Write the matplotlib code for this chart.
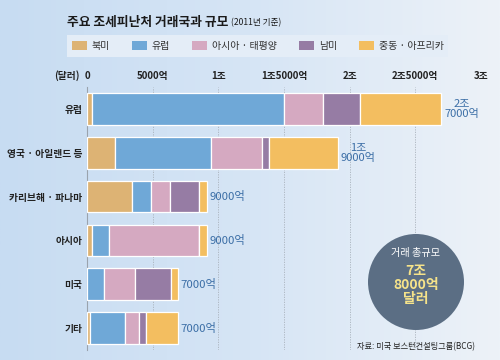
import numpy as np
import matplotlib
matplotlib.use("Agg")
import matplotlib.pyplot as plt
from matplotlib.patches import Patch, Circle, Rectangle
from matplotlib.colors import LinearSegmentedColormap

plt.rcParams['font.family'] = ['Noto Sans CJK KR', 'DejaVu Sans']

# ---- data (unit: 억 달러) ----
categories = ["유럽", "영국 · 아일랜드 등", "카리브해 · 파나마", "아시아", "미국", "기타"]
regions = ["북미", "유럽", "아시아 · 태평양", "남미", "중동 · 아프리카"]
north_america = [360, 2160, 3450, 360, 0, 200]
europe = [14630, 7280, 1450, 1290, 1320, 2690]
asia_pacific = [2970, 3880, 1420, 6870, 2330, 1100]
south_america = [2790, 560, 2210, 0, 2740, 530]
mideast_africa = [6240, 5250, 590, 590, 530, 2400]
total_labels = ["2조\n7000억", "1조\n9000억", "9000억", "9000억", "7000억", "7000억"]
tick_values = [0, 5000, 10000, 15000, 20000, 25000, 30000]
tick_labels = ["0", "5000억", "1조", "1조5000억", "2조", "2조5000억", "3조"]

series = [north_america, europe, asia_pacific, south_america, mideast_africa]
colors = ["#ddb374", "#6fa8d7", "#d5a9c1", "#967ca4", "#f3be60"]

W, H = 500, 360
fig = plt.figure(figsize=(W / 100, H / 100), dpi=100)

# background gradient
bg = fig.add_axes([0, 0, 1, 1], zorder=-10)
grad = np.linspace(0, 1, 256)[None, :]
cmap = LinearSegmentedColormap.from_list("bg", ["#c7dcf2", "#d6e5f5", "#edf2f8"])
bg.imshow(grad, aspect="auto", cmap=cmap, extent=[0, 1, 0, 1])
bg.set_axis_off()

# main axes: x 87..481 px, y 87..350 px
ax = fig.add_axes([87 / W, (H - 350) / H, 394 / W, 263 / H])
ax.patch.set_alpha(0)
y = np.arange(len(categories))
left = np.zeros(len(categories))
for vals, col in zip(series, colors):
    v = np.array(vals, dtype=float)
    ax.barh(y, v, left=left, height=0.72, color=col, edgecolor="white",
            linewidth=0.9, zorder=3)
    left += v

ax.set_xlim(0, 30000)
ax.set_ylim(5.5, -0.5)
ax.set_xticks(tick_values)
ax.set_xticklabels(tick_labels, fontsize=7, fontweight="bold", color="#222222")
ax.xaxis.tick_top()
ax.tick_params(axis="x", length=0, pad=4)
ax.set_yticks(y)
ax.set_yticklabels(categories, fontsize=7, fontweight="bold", color="#222222")
ax.tick_params(axis="y", length=0, pad=3.5)
for s in ["top", "right", "bottom"]:
    ax.spines[s].set_visible(False)
ax.spines["left"].set_color("#9aa3ad")
ax.spines["left"].set_linewidth(0.8)
ax.grid(axis="x", linestyle=(0, (1.5, 1.5)), color="#a9b2bc", linewidth=0.6, zorder=0)
ax.set_axisbelow(True)

# (달러) prefix
ax.annotate("(달러)", xy=(0, 1), xycoords="axes fraction", xytext=(-5, 4),
            textcoords="offset points", ha="right", va="bottom",
            fontsize=7, fontweight="bold", color="#222222")

# total labels
for i, (tot, lab) in enumerate(zip(left, total_labels)):
    if "\n" in lab:
        ax.annotate(lab, xy=(tot, i), xytext=(14.5, 0), textcoords="offset points",
                    ha="center", va="center", fontsize=8, color="#3b6ea6",
                    linespacing=1.05)
    else:
        ax.annotate(lab, xy=(tot, i), xytext=(2, 0), textcoords="offset points",
                    ha="left", va="center", fontsize=8.2, color="#3b6ea6")

# title
title = fig.text(67 / W, 1 - 22 / H, "주요 조세피난처 거래국과 규모", fontsize=9.2,
                 fontweight="bold", ha="left", va="center", color="#1a1a1a")
fig.text(0, 0, "(2011년 기준)", fontsize=6.2, ha="left", va="center",
         color="#1a1a1a")
sub = fig.texts[-1]
sub.remove()
ax.annotate("(2011년 기준)", xy=(1, 0.45), xycoords=title, xytext=(2, 0),
            textcoords="offset points", ha="left", va="center",
            fontsize=6.2, color="#1a1a1a", annotation_clip=False)

# legend
fig.add_artist(Rectangle((67 / W, 1 - 57 / H), 381 / W, 22 / H,
                         transform=fig.transFigure, facecolor="#e4edf7",
                         edgecolor="none", zorder=1))
handles = [Patch(facecolor=c, edgecolor="none") for c in colors]
leg = fig.legend(handles, regions, loc="center", bbox_to_anchor=(258 / W, 1 - 46 / H),
                 ncol=5, frameon=False, fontsize=7.2, handlelength=1.5,
                 handleheight=1.0, handletextpad=0.5, columnspacing=2.2)
for t in leg.get_texts():
    t.set_color("#333333")

# circle with total
circ = Circle((4.16, 3.6 - 2.82), 0.48, transform=fig.dpi_scale_trans,
              facecolor="#5b6e84", edgecolor="none", zorder=5)
fig.add_artist(circ)
fig.text(416 / W, 1 - 253 / H, "거래 총규모", fontsize=7.3, color="white",
         ha="center", va="center", zorder=6)
fig.text(416 / W, 1 - 285 / H, "7조\n8000억\n달러", fontsize=10, color="#f6e38a",
         fontweight="bold", ha="center", va="center", linespacing=1.0, zorder=6)

# source
fig.text(475 / W, 1 - 347 / H, "자료: 미국 보스턴컨설팅그룹(BCG)", fontsize=5.9,
         ha="right", va="center", color="#222222")

fig.savefig("out.png", dpi=100)
